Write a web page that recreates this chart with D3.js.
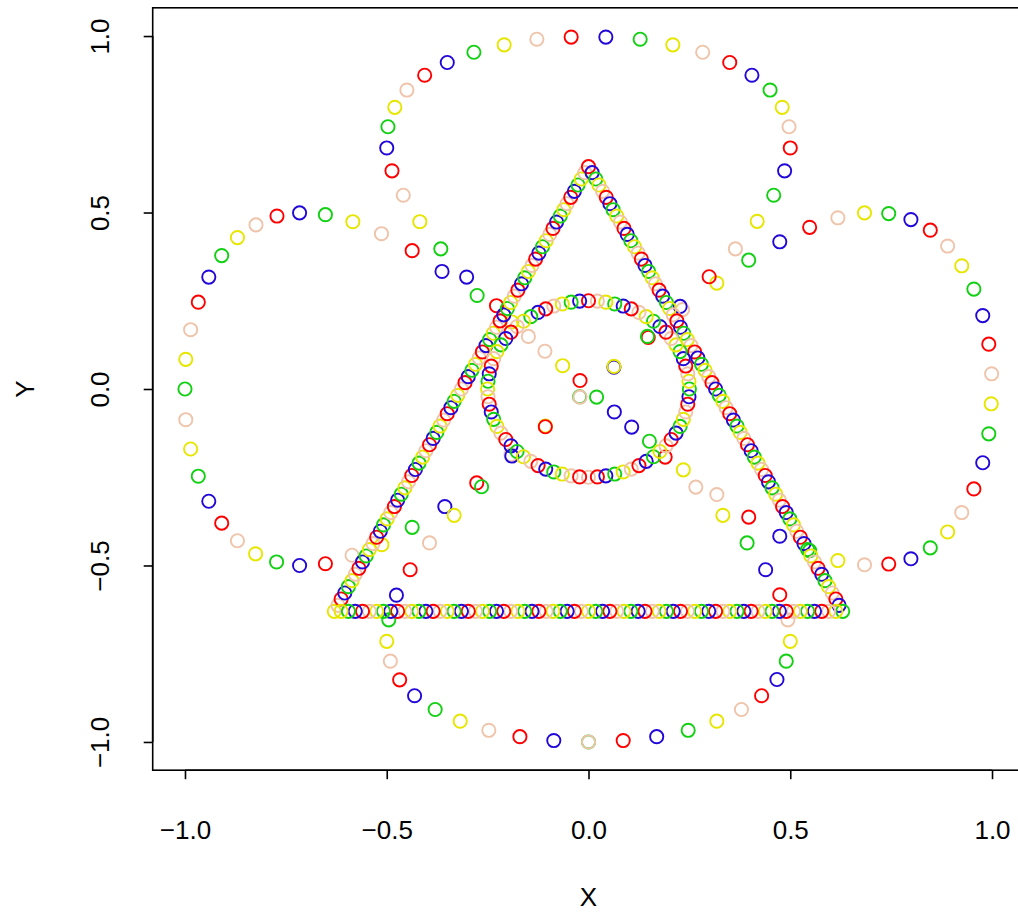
<!DOCTYPE html>
<html>
<head>
<meta charset="utf-8">
<script src="https://cdn.jsdelivr.net/npm/d3@7"></script>
<style>
  body { margin: 0; background: #fff; }
  svg { display: block; }
  text { font-family: "Liberation Sans", Arial, Helvetica, sans-serif; fill: #000; }
</style>
</head>
<body>
<svg id="chart" width="1018" height="916"></svg>
<script>
// ---- data -------------------------------------------------------------
// Four-lobed curve, part 1 (bottom + top lobes, crossing the centre)
const lobeAx = [0.000, 0.086, 0.169, 0.247, 0.318, 0.379, 0.429, 0.467, 0.490, 0.500, 0.494, 0.474, 0.439, 0.393, 0.333, 0.266, 0.190, 0.107, 0.020,
  -0.064, -0.149, -0.228, -0.302, -0.366, -0.418, -0.459, -0.487, -0.500, -0.497, -0.480, -0.450, -0.406, -0.350, -0.284, -0.209, -0.128, -0.043,
  0.043, 0.128, 0.209, 0.283, 0.350, 0.405, 0.450, 0.480, 0.497, 0.500, 0.486, 0.459, 0.418, 0.364, 0.299, 0.227, 0.146, 0.063,
  -0.021, -0.107, -0.190, -0.265, -0.333, -0.394, -0.442, -0.476, -0.495, -0.500, -0.491, -0.468, -0.431, -0.380, -0.318, -0.247, -0.170, -0.086, 0.000];
const lobeAy = [-1.000, -0.996, -0.985, -0.967, -0.941, -0.908, -0.869, -0.823, -0.771, -0.715, -0.654, -0.583, -0.512, -0.436, -0.358, -0.278, -0.193, -0.108, -0.023,
  0.066, 0.149, 0.236, 0.317, 0.397, 0.474, 0.549, 0.618, 0.683, 0.743, 0.798, 0.847, 0.889, 0.925, 0.954, 0.975, 0.991, 0.997,
  0.997, 0.991, 0.975, 0.954, 0.925, 0.889, 0.847, 0.798, 0.743, 0.683, 0.618, 0.549, 0.475, 0.397, 0.318, 0.234, 0.149, 0.064,
  -0.023, -0.107, -0.190, -0.277, -0.358, -0.436, -0.512, -0.584, -0.654, -0.715, -0.771, -0.824, -0.869, -0.908, -0.941, -0.967, -0.985, -0.996, -1.000];

// Four-lobed curve, part 2 (left + right lobes, crossing the centre)
const lobeBx = [-1.000, -0.998, -0.986, -0.967, -0.941, -0.909, -0.870, -0.824, -0.772, -0.716, -0.652, -0.584, -0.513, -0.437, -0.363, -0.276, -0.190, -0.108, -0.021,
  0.064, 0.151, 0.235, 0.318, 0.397, 0.474, 0.548, 0.618, 0.684, 0.744, 0.799, 0.847, 0.890, 0.925, 0.955, 0.977, 0.992, 0.998,
  0.999, 0.992, 0.977, 0.955, 0.925, 0.890, 0.847, 0.799, 0.744, 0.684, 0.618, 0.548, 0.474, 0.397, 0.318, 0.233, 0.148, 0.063,
  -0.022, -0.107, -0.192, -0.277, -0.356, -0.437, -0.512, -0.586, -0.652, -0.716, -0.773, -0.825, -0.870, -0.909, -0.941, -0.967, -0.986, -0.998];
const lobeBy = [0.000, 0.084, 0.168, 0.246, 0.317, 0.378, 0.429, 0.465, 0.490, 0.499, 0.494, 0.474, 0.440, 0.392, 0.333, 0.265, 0.190, 0.107, 0.024,
  -0.065, -0.148, -0.229, -0.299, -0.363, -0.417, -0.458, -0.486, -0.498, -0.496, -0.481, -0.450, -0.405, -0.350, -0.283, -0.209, -0.127, -0.042,
  0.043, 0.127, 0.208, 0.283, 0.349, 0.405, 0.450, 0.480, 0.497, 0.499, 0.485, 0.458, 0.417, 0.365, 0.300, 0.225, 0.146, 0.062,
  -0.022, -0.105, -0.186, -0.266, -0.333, -0.392, -0.441, -0.471, -0.495, -0.500, -0.490, -0.467, -0.430, -0.380, -0.318, -0.247, -0.170, -0.087];

// Triangle: left edge (upwards), right edge (downwards), base (right to left)
const triLeftX = [-0.630, -0.621, -0.613, -0.604, -0.595, -0.586, -0.578, -0.569, -0.560, -0.551, -0.543, -0.534, -0.525, -0.516, -0.508, -0.499, -0.490, -0.481,
  -0.473, -0.464, -0.455, -0.446, -0.438, -0.429, -0.420, -0.411, -0.403, -0.394, -0.385, -0.376, -0.368, -0.359, -0.350, -0.341, -0.333, -0.324,
  -0.315, -0.306, -0.298, -0.289, -0.280, -0.271, -0.263, -0.254, -0.245, -0.236, -0.228, -0.219, -0.210, -0.201, -0.193, -0.184, -0.175, -0.166,
  -0.158, -0.149, -0.140, -0.131, -0.123, -0.114, -0.105, -0.096, -0.088, -0.079, -0.070, -0.061, -0.053, -0.044, -0.035, -0.026, -0.018, -0.009, 0.000];
const triLeftY = [-0.630, -0.613, -0.595, -0.578, -0.560, -0.543, -0.525, -0.508, -0.490, -0.473, -0.455, -0.438, -0.420, -0.403, -0.385, -0.368, -0.350, -0.333,
  -0.315, -0.298, -0.280, -0.263, -0.245, -0.228, -0.210, -0.193, -0.175, -0.158, -0.140, -0.123, -0.105, -0.088, -0.070, -0.053, -0.035, -0.018,
  0.000, 0.018, 0.035, 0.053, 0.070, 0.088, 0.105, 0.123, 0.140, 0.158, 0.175, 0.193, 0.210, 0.228, 0.245, 0.263, 0.280, 0.298,
  0.315, 0.333, 0.350, 0.368, 0.385, 0.403, 0.420, 0.438, 0.455, 0.473, 0.490, 0.508, 0.525, 0.543, 0.560, 0.578, 0.595, 0.613, 0.630];
const triRightX = [0.009, 0.018, 0.026, 0.035, 0.044, 0.053, 0.061, 0.070, 0.079, 0.088, 0.096, 0.105, 0.114, 0.123, 0.131, 0.140, 0.149, 0.158,
  0.166, 0.175, 0.184, 0.193, 0.201, 0.210, 0.219, 0.228, 0.236, 0.245, 0.254, 0.263, 0.271, 0.280, 0.289, 0.298, 0.306, 0.315,
  0.324, 0.333, 0.341, 0.350, 0.359, 0.368, 0.376, 0.385, 0.394, 0.403, 0.411, 0.420, 0.429, 0.438, 0.446, 0.455, 0.464, 0.473,
  0.481, 0.490, 0.499, 0.508, 0.516, 0.525, 0.534, 0.543, 0.551, 0.560, 0.569, 0.578, 0.586, 0.595, 0.604, 0.613, 0.621, 0.630];
const triRightY = [0.613, 0.595, 0.578, 0.560, 0.543, 0.525, 0.508, 0.490, 0.473, 0.455, 0.438, 0.420, 0.403, 0.385, 0.368, 0.350, 0.333, 0.315,
  0.298, 0.280, 0.263, 0.245, 0.228, 0.210, 0.193, 0.175, 0.158, 0.140, 0.123, 0.105, 0.088, 0.070, 0.053, 0.035, 0.018, 0.000,
  -0.018, -0.035, -0.053, -0.070, -0.088, -0.105, -0.123, -0.140, -0.158, -0.175, -0.193, -0.210, -0.228, -0.245, -0.263, -0.280, -0.298, -0.315,
  -0.333, -0.350, -0.368, -0.385, -0.403, -0.420, -0.438, -0.455, -0.473, -0.490, -0.508, -0.525, -0.543, -0.560, -0.578, -0.595, -0.613, -0.630];
const triBaseX = [0.613, 0.595, 0.578, 0.560, 0.543, 0.525, 0.508, 0.490, 0.473, 0.455, 0.438, 0.420, 0.403, 0.385, 0.368, 0.350, 0.333, 0.315,
  0.298, 0.280, 0.263, 0.245, 0.228, 0.210, 0.193, 0.175, 0.158, 0.140, 0.123, 0.105, 0.088, 0.070, 0.053, 0.035, 0.018, 0.000,
  -0.018, -0.035, -0.053, -0.070, -0.088, -0.105, -0.123, -0.140, -0.158, -0.175, -0.193, -0.210, -0.228, -0.245, -0.263, -0.280, -0.298, -0.315,
  -0.333, -0.350, -0.368, -0.385, -0.403, -0.420, -0.438, -0.455, -0.473, -0.490, -0.508, -0.525, -0.543, -0.560, -0.578, -0.595, -0.613];
const triBaseY = -0.630;

// Small circle around the origin (counter-clockwise from the bottom)
const circX = [0.000, 0.022, 0.043, 0.065, 0.086, 0.106, 0.125, 0.143, 0.161, 0.177, 0.192, 0.205, 0.217, 0.227, 0.235, 0.241, 0.246, 0.249,
  0.250, 0.249, 0.246, 0.241, 0.235, 0.227, 0.217, 0.205, 0.192, 0.177, 0.161, 0.143, 0.125, 0.106, 0.086, 0.065, 0.043, 0.022,
  0.000, -0.022, -0.043, -0.065, -0.086, -0.106, -0.125, -0.143, -0.161, -0.177, -0.192, -0.205, -0.217, -0.227, -0.235, -0.241, -0.246, -0.249,
  -0.250, -0.249, -0.246, -0.241, -0.235, -0.227, -0.217, -0.205, -0.192, -0.177, -0.161, -0.143, -0.125, -0.106, -0.086, -0.065, -0.043, -0.022];
const circY = [-0.250, -0.249, -0.246, -0.241, -0.235, -0.227, -0.217, -0.205, -0.192, -0.177, -0.161, -0.143, -0.125, -0.106, -0.086, -0.065, -0.043, -0.022,
  0.000, 0.022, 0.043, 0.065, 0.086, 0.106, 0.125, 0.143, 0.161, 0.177, 0.192, 0.205, 0.217, 0.227, 0.235, 0.241, 0.246, 0.249,
  0.250, 0.249, 0.246, 0.241, 0.235, 0.227, 0.217, 0.205, 0.192, 0.177, 0.161, 0.143, 0.125, 0.106, 0.086, 0.065, 0.043, 0.022,
  0.000, -0.022, -0.043, -0.065, -0.086, -0.106, -0.125, -0.143, -0.161, -0.177, -0.192, -0.205, -0.217, -0.227, -0.235, -0.241, -0.246, -0.249];

const xTicks = [-1.0, -0.5, 0.0, 0.5, 1.0];
const yTicks = [-1.0, -0.5, 0.0, 0.5, 1.0];
const xTitle = "X";
const yTitle = "Y";

// Five plotting colours, recycled along each point sequence
const palette = ["#ff0000", "#2208d8", "#12d012", "#e6e600", "#efc4aa"];

// ---- layout -----------------------------------------------------------
const svg = d3.select("#chart");

const x = d3.scaleLinear().domain([-1.08, 1.08]).range([152.7, 1024.3]);
const y = d3.scaleLinear().domain([-1.08, 1.08]).range([770.2, 7.8]);
const colour = d3.scaleOrdinal().domain(d3.range(5)).range(palette);

// build point records; colour index follows the order along each sequence
function seq(xs, ys, start) {
  return xs.map((v, i) => ({ x: v, y: Array.isArray(ys) ? ys[i] : ys, c: (start + i) % 5 }));
}
const lobeB = seq(lobeBx, lobeBy, 2);
const lobeA = seq(lobeAx, lobeAy, 4).reverse();   // first point ends up on top
const triStart = 3;
const triPts = [
  ...seq(triLeftX, triLeftY, triStart),
  ...seq(triRightX, triRightY, (triStart + triLeftX.length) % 5),
  ...seq(triBaseX, triBaseY, (triStart + triLeftX.length + triRightX.length) % 5)
];
const circPts = seq(circX, circY, 4);

const allPts = [...lobeB, ...lobeA, ...triPts, ...circPts];

const plot = svg.append("g");
plot.selectAll("circle.pt")
  .data(allPts)
  .join("circle")
  .attr("class", "pt")
  .attr("cx", d => x(d.x))
  .attr("cy", d => y(d.y))
  .attr("r", 6.6)
  .attr("fill", "none")
  .attr("stroke", d => colour(d.c))
  .attr("stroke-width", 1.9);

// frame
svg.append("rect")
  .attr("x", x(-1.08)).attr("y", y(1.08))
  .attr("width", x(1.08) - x(-1.08)).attr("height", y(-1.08) - y(1.08))
  .attr("fill", "none").attr("stroke", "#000").attr("stroke-width", 1.6);

const fmt = d3.format(".1f");

// bottom axis
const xAxis = svg.append("g")
  .attr("transform", `translate(0,${y(-1.08)})`)
  .call(d3.axisBottom(x).tickValues(xTicks).tickSize(9).tickSizeOuter(0).tickPadding(41).tickFormat(fmt));
xAxis.select(".domain").remove();
xAxis.append("line")
  .attr("x1", x(xTicks[0])).attr("x2", x(xTicks[xTicks.length - 1]))
  .attr("stroke", "#000").attr("stroke-width", 1.6);
xAxis.selectAll(".tick line").attr("stroke-width", 1.6);
xAxis.selectAll(".tick text").attr("font-size", 26).attr("font-family", "Liberation Sans, Arial, sans-serif").attr("fill", "#000");

// left axis (labels rotated, as in base graphics)
const yAxis = svg.append("g")
  .attr("transform", `translate(${x(-1.08)},0)`)
  .call(d3.axisLeft(y).tickValues(yTicks).tickSize(9).tickSizeOuter(0).tickFormat(fmt));
yAxis.select(".domain").remove();
yAxis.append("line")
  .attr("y1", y(yTicks[0])).attr("y2", y(yTicks[yTicks.length - 1]))
  .attr("stroke", "#000").attr("stroke-width", 1.6);
yAxis.selectAll(".tick line").attr("stroke-width", 1.6);
yAxis.selectAll(".tick text")
  .attr("font-size", 26).attr("font-family", "Liberation Sans, Arial, sans-serif").attr("fill", "#000")
  .attr("x", null).attr("dy", null)
  .attr("text-anchor", "middle")
  .attr("transform", "translate(-44,0) rotate(-90)");

// axis titles
svg.append("text")
  .attr("x", (x(-1.0) + x(1.0)) / 2).attr("y", 906)
  .attr("text-anchor", "middle").attr("font-size", 26)
  .text(xTitle);
svg.append("text")
  .attr("transform", `translate(34,${(y(-1.0) + y(1.0)) / 2}) rotate(-90)`)
  .attr("text-anchor", "middle").attr("font-size", 26)
  .text(yTitle);
</script>
</body>
</html>
